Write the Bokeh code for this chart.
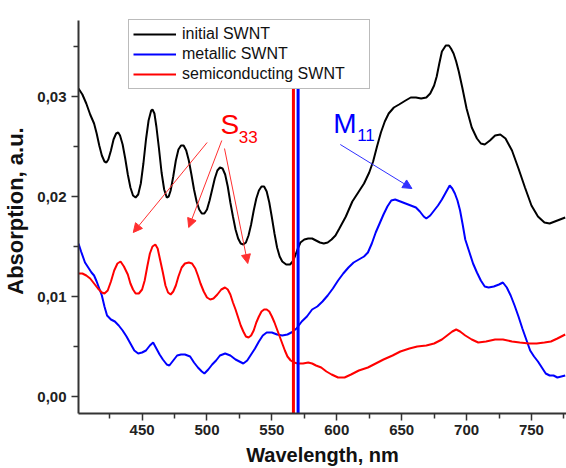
from bokeh.plotting import figure
from bokeh.models import (Legend, LegendItem, FixedTicker, CustomJSTickFormatter,
                          Arrow, NormalHead, ColumnDataSource, Range1d)
from bokeh.core.properties import value
from bokeh.embed import file_html
from bokeh.resources import INLINE

# ---------------- data ----------------
initial_x = [401, 404, 407, 410, 413, 415, 417, 419, 421, 422.5, 424, 426, 428, 430, 431.6, 433,
             435, 437, 439, 441, 443, 445, 447, 449, 451, 453, 455, 457, 458, 459.5, 461, 463,
             465, 467, 469, 470.5, 472, 474, 476, 478, 480, 482, 484, 486, 488, 490, 492, 494,
             496, 498, 500, 502, 504, 506, 508, 510, 512, 514, 516, 518, 520, 522, 524, 526,
             528, 530, 532, 534, 536, 538, 540, 542, 544, 546, 548, 550, 552, 554, 556, 558,
             561, 564, 566, 568, 570, 572, 575, 578, 581, 584, 587, 590, 593, 596, 599, 602,
             607, 612, 617, 621, 625, 628, 631, 634, 637, 640, 644, 648, 653, 657, 661, 665,
             669, 672, 675, 677, 679, 681, 684, 686.4, 688, 690, 692, 694, 696.7, 700, 704,
             708, 711, 714, 718, 722, 726, 730, 735, 740, 745, 750, 755, 760, 764, 768, 772,
             776]
initial_y = [0.0308, 0.0302, 0.0293, 0.0282, 0.0273, 0.0263, 0.0251, 0.0241, 0.0235, 0.0234,
             0.0237, 0.0246, 0.0257, 0.0263, 0.0264, 0.0261, 0.0252, 0.0238, 0.0222, 0.0209,
             0.0201, 0.0199, 0.0202, 0.0213, 0.0233, 0.0257, 0.0276, 0.0286, 0.0287, 0.0283,
             0.0270, 0.0248, 0.0224, 0.0207, 0.0199, 0.0200, 0.0206, 0.0220, 0.0236, 0.0247,
             0.0251, 0.0251, 0.0246, 0.0236, 0.0222, 0.0207, 0.0195, 0.0187, 0.0183, 0.0183,
             0.0187, 0.0196, 0.0207, 0.0218, 0.0226, 0.0229, 0.0228, 0.0222, 0.0210, 0.0194,
             0.0180, 0.0167, 0.0158, 0.0153, 0.0152, 0.0154, 0.0161, 0.0172, 0.0186, 0.0198,
             0.0206, 0.0210, 0.0210, 0.0205, 0.0194, 0.0179, 0.0163, 0.0149, 0.0140, 0.0135,
             0.0132, 0.0132, 0.0135, 0.0141, 0.0148, 0.0154, 0.0157, 0.0158, 0.0158, 0.0156,
             0.0154, 0.0153, 0.0154, 0.0157, 0.0161, 0.0168, 0.0180, 0.0195, 0.0205, 0.0213,
             0.0224, 0.0235, 0.0250, 0.0264, 0.0275, 0.0283, 0.0289, 0.0292, 0.0296, 0.0299,
             0.0299, 0.0298, 0.0299, 0.0303, 0.0311, 0.0320, 0.0333, 0.0345, 0.0351, 0.0351,
             0.0348, 0.0343, 0.0335, 0.0325, 0.0309, 0.0288, 0.0269, 0.0258, 0.0253, 0.0252,
             0.0256, 0.0261, 0.0262, 0.0258, 0.0246, 0.0228, 0.0209, 0.0191, 0.0180, 0.0174,
             0.0173, 0.0175, 0.0177, 0.0179]

metallic_x = [401, 403, 406, 408, 411, 413, 415, 417, 419, 421, 423, 426, 429, 432, 435, 438,
              441, 444, 447, 450, 453, 456, 458.5, 461, 463.5, 466, 469, 471, 474, 477, 480,
              483, 487, 490, 493, 496, 498, 501, 504, 507, 510, 514, 518, 522, 525, 528, 531,
              534, 537, 540, 543, 546, 550, 554, 558, 562, 565, 569, 573, 577, 581, 585, 589,
              593, 597, 601, 605, 609, 613, 617, 621, 624, 627, 630, 633, 636, 639, 642, 645,
              649, 653, 657, 661, 664, 667, 669, 672, 675, 678, 681, 684, 687, 689, 691, 693,
              695, 697, 699, 702, 705, 708, 711, 714, 717, 721, 725, 728, 731, 734, 737, 740,
              743, 746, 749, 752, 755, 758, 761, 764, 767, 770, 773, 776]
metallic_y = [0.0153, 0.0145, 0.0134, 0.0130, 0.0124, 0.0121, 0.0115, 0.0108, 0.0101, 0.0090,
              0.0081, 0.0077, 0.0075, 0.0071, 0.0066, 0.0060, 0.0053, 0.0046, 0.0043, 0.0044,
              0.0046, 0.0051, 0.0054, 0.0048, 0.0042, 0.0037, 0.0032, 0.0031, 0.0036, 0.0041,
              0.0042, 0.0042, 0.0040, 0.0034, 0.0029, 0.0025, 0.0023, 0.0027, 0.0032, 0.0036,
              0.0041, 0.0043, 0.0041, 0.0037, 0.0035, 0.0033, 0.0036, 0.0042, 0.0048, 0.0055,
              0.0061, 0.0064, 0.0064, 0.0062, 0.0061, 0.0062, 0.0064, 0.0068, 0.0075, 0.0080,
              0.0087, 0.0090, 0.0095, 0.0101, 0.0108, 0.0116, 0.0123, 0.0129, 0.0134, 0.0137,
              0.0140, 0.0144, 0.0153, 0.0164, 0.0173, 0.0182, 0.0190, 0.0196, 0.0197, 0.0195,
              0.0193, 0.0191, 0.0189, 0.0185, 0.0180, 0.0178, 0.0181, 0.0186, 0.0191, 0.0197,
              0.0204, 0.0211, 0.0208, 0.0203, 0.0196, 0.0186, 0.0172, 0.0157, 0.0145, 0.0133,
              0.0124, 0.0116, 0.0110, 0.0109, 0.0110, 0.0112, 0.0114, 0.0109, 0.0101, 0.0091,
              0.0080, 0.0068, 0.0057, 0.0046, 0.0040, 0.0035, 0.0029, 0.0023, 0.0021, 0.0021,
              0.0019, 0.0020, 0.0021]

semi_x = [401, 404, 407, 410, 413, 416, 419, 421, 423.5, 426, 428.5, 431, 433.4, 436, 439, 441,
          443, 445, 447.5, 450, 452, 454, 456, 458, 460.2, 462, 464, 466, 468, 470, 472, 474,
          476, 478, 480.5, 483, 486, 488.5, 491, 493, 495, 497.5, 500, 502.5, 505, 508, 511,
          513.9, 516, 518, 520, 522, 524, 526, 528, 530, 532, 534, 536, 538, 540, 542, 544,
          546, 548, 550, 552, 554, 556, 558, 560, 562, 564.5, 567, 570, 574, 578, 581, 584,
          588, 592, 596, 601, 606, 611, 617, 624, 630, 636, 643, 649, 656, 662, 669, 675, 681,
          685, 689, 692, 695, 699, 704, 709, 715, 722, 728, 735, 741, 748, 754, 760, 765, 770,
          776]
semi_y = [0.0123, 0.0123, 0.0121, 0.0118, 0.0113, 0.0108, 0.0104, 0.0103, 0.0106, 0.0115,
          0.0126, 0.0133, 0.0135, 0.0130, 0.0122, 0.0113, 0.0107, 0.0103, 0.0103, 0.0107,
          0.0116, 0.0130, 0.0143, 0.0150, 0.0152, 0.0148, 0.0136, 0.0124, 0.0111, 0.0104,
          0.0102, 0.0105, 0.0111, 0.0120, 0.0129, 0.0133, 0.0134, 0.0133, 0.0128, 0.0121,
          0.0113, 0.0105, 0.0099, 0.0097, 0.0098, 0.0102, 0.0107, 0.0109, 0.0107, 0.0102,
          0.0094, 0.0087, 0.0079, 0.0071, 0.0065, 0.0060, 0.0059, 0.0061, 0.0066, 0.0074,
          0.0080, 0.0085, 0.0087, 0.0087, 0.0085, 0.0080, 0.0074, 0.0067, 0.0060, 0.0053,
          0.0046, 0.0040, 0.0036, 0.0034, 0.0033, 0.0033, 0.0034, 0.0033, 0.0031, 0.0029,
          0.0025, 0.0022, 0.0019, 0.0019, 0.0022, 0.0026, 0.0029, 0.0033, 0.0037, 0.0041,
          0.0045, 0.0048, 0.0050, 0.0051, 0.0053, 0.0057, 0.0061, 0.0065, 0.0067, 0.0065,
          0.0061, 0.0057, 0.0054, 0.0055, 0.0057, 0.0057, 0.0055, 0.0054, 0.0053, 0.0053,
          0.0054, 0.0055, 0.0058, 0.0062]

series_labels = ["initial SWNT", "metallic SWNT", "semiconducting SWNT"]

x_ticks = [450, 500, 550, 600, 650, 700, 750]
x_minor_ticks = [425, 475, 525, 575, 625, 675, 725, 775]
y_ticks = [0.00, 0.01, 0.02, 0.03]
y_minor_ticks = [0.005, 0.015, 0.025, 0.035]

y_axis_bottom = -0.0017
y_axis_top = 0.0376

vline_semi = 566.6
vline_metal = 570.2

# S33 arrows (start -> end)
s_arrow_x0 = [500.1, 511.4, 513.5]
s_arrow_y0 = [0.0254, 0.0256, 0.0248]
s_arrow_x1 = [443.2, 485.9, 531.4]
s_arrow_y1 = [0.0164, 0.0169, 0.0133]
m_arrow_x0 = [602.7]
m_arrow_y0 = [0.0252]
m_arrow_x1 = [657.9]
m_arrow_y1 = [0.0208]

s_label = ("S", 510.5, 0.0272)
s_sub = ("33", 524.5, 0.0260)
m_label = ("M", 597.3, 0.0273)
m_sub = ("11", 615.7, 0.0262)

# ---------------- figure ----------------
FONT = "Liberation Sans"
# frame spans y = 8..413 px; the visible y-axis line stops at y_axis_top (y = 20 px)
p = figure(width=566, height=468, output_backend="svg", toolbar_location=None,
           x_range=Range1d(401, 777), y_range=Range1d(y_axis_bottom, 0.0388),
           min_border_left=76, min_border_right=0, min_border_top=8, min_border_bottom=55)
p.outline_line_color = None
p.xgrid.visible = False
p.ygrid.visible = False
p.background_fill_color = "white"
p.border_fill_color = "white"

r_init = p.line(initial_x, initial_y, line_color="black", line_width=2)
r_met = p.line(metallic_x, metallic_y, line_color="#0000ff", line_width=2)
r_semi = p.line(semi_x, semi_y, line_color="#ff0000", line_width=2)

p.segment(x0=[vline_semi], y0=[y_axis_bottom], x1=[vline_semi], y1=[y_axis_top],
          line_color="#ff0000", line_width=3)
p.segment(x0=[vline_metal], y0=[y_axis_bottom], x1=[vline_metal], y1=[y_axis_top],
          line_color="#0000ff", line_width=3)

s_src = ColumnDataSource(dict(x0=s_arrow_x0, y0=s_arrow_y0, x1=s_arrow_x1, y1=s_arrow_y1))
m_src = ColumnDataSource(dict(x0=m_arrow_x0, y0=m_arrow_y0, x1=m_arrow_x1, y1=m_arrow_y1))
p.add_layout(Arrow(source=s_src, x_start="x0", y_start="y0", x_end="x1", y_end="y1",
                   line_color="#ff3030", line_width=1,
                   end=NormalHead(size=9, fill_color="#ff3030", line_color="#ff3030", line_width=1)))
p.add_layout(Arrow(source=m_src, x_start="x0", y_start="y0", x_end="x1", y_end="y1",
                   line_color="#3030ff", line_width=1,
                   end=NormalHead(size=9, fill_color="#3030ff", line_color="#3030ff", line_width=1)))

for (t, x, y), size, col in [(s_label, "28px", "#ff0000"), (s_sub, "17px", "#ff0000"),
                             (m_label, "28px", "#0000ff"), (m_sub, "17px", "#0000ff")]:
    p.text(x=[x], y=[y], text=[t], text_font=value(FONT), text_font_size=size,
           text_color=col, text_align="left", text_baseline="alphabetic")

# axes
for ax in (p.xaxis[0], p.yaxis[0]):
    ax.axis_line_color = "#333333"
    ax.axis_line_width = 2
    ax.major_tick_line_color = "#333333"
    ax.minor_tick_line_color = "#333333"
    ax.major_tick_line_width = 1.5
    ax.minor_tick_line_width = 1.5
    ax.major_tick_out = 7
    ax.major_tick_in = 0
    ax.minor_tick_out = 5
    ax.minor_tick_in = 0
    ax.major_label_text_font = FONT
    ax.major_label_text_font_style = "bold"
    ax.major_label_text_font_size = "15px"
    ax.major_label_text_color = "#222222"
    ax.axis_label_text_font = FONT
    ax.axis_label_text_font_style = "bold"
    ax.axis_label_text_color = "#111111"

p.yaxis.bounds = (y_axis_bottom, y_axis_top)
p.xaxis.ticker = FixedTicker(ticks=x_ticks, minor_ticks=x_minor_ticks)
p.yaxis.ticker = FixedTicker(ticks=y_ticks, minor_ticks=y_minor_ticks)
p.yaxis.formatter = CustomJSTickFormatter(code="return tick.toFixed(2).replace('.', ',');")
p.xaxis.axis_label = "Wavelength, nm"
p.yaxis.axis_label = "Absorption, a.u."
p.xaxis.axis_label_text_font_size = "20px"
p.yaxis.axis_label_text_font_size = "22px"
p.xaxis.major_label_standoff = 4
p.xaxis.axis_label_standoff = 6
p.yaxis.major_label_standoff = 5
p.yaxis.axis_label_standoff = 6

legend = Legend(items=[LegendItem(label=series_labels[0], renderers=[r_init]),
                       LegendItem(label=series_labels[1], renderers=[r_met]),
                       LegendItem(label=series_labels[2], renderers=[r_semi])],
                location=(50, 324))
legend.label_text_font = FONT
legend.label_text_font_size = "16px"
legend.label_text_color = "#111111"
legend.glyph_width = 43
legend.glyph_height = 20
legend.label_height = 20
legend.spacing = 0
legend.padding = 4
legend.margin = 0
legend.label_standoff = 6
legend.label_width = 183
legend.border_line_color = "#777777"
legend.border_line_width = 1
legend.background_fill_color = "white"
legend.background_fill_alpha = 1
p.add_layout(legend)

open("out.html", "w").write(file_html(p, INLINE))
